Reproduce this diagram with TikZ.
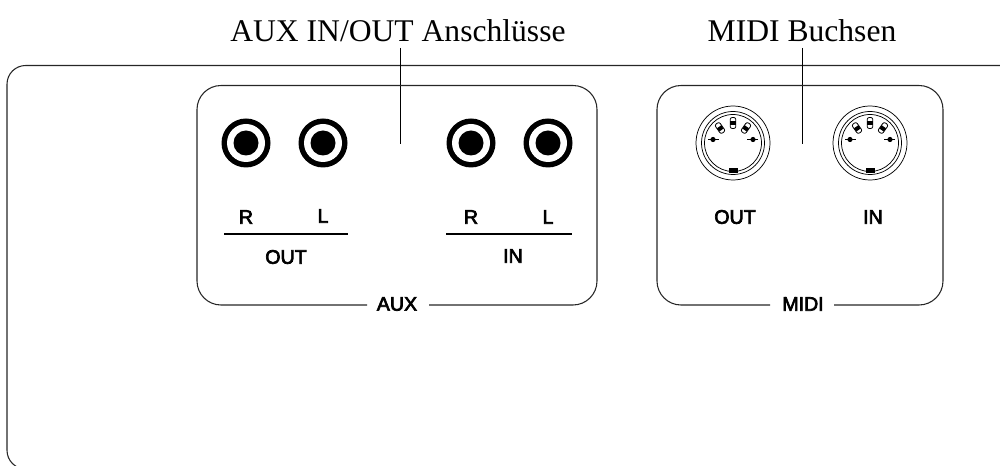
\documentclass[tikz,border=0pt]{standalone}
\usepackage{fontspec}
\setmainfont{Liberation Serif}
\newfontfamily\lab{Liberation Sans}[FakeBold=3.5]
\tikzset{
  x=0.75pt,y=-0.75pt,
  frame/.style={draw=black!85,line width=0.8pt},
  rulee/.style={draw=black,line width=1.2pt},
  lead/.style={draw=black,line width=0.7pt},
  title/.style={font=\fontsize{23.7}{26}\selectfont,inner sep=0pt,anchor=center},
  lbl/.style={font=\lab\fontsize{14.7}{16}\selectfont,inner sep=0pt,anchor=center},
  ring/.style={draw=black,line width=0.55pt,fill=white},
}
\newcommand{\jack}[3]{%
  \node[circle,fill=black,minimum size=36.75pt,inner sep=0pt] (#3) at (#1,#2) {};
  \fill[white] (#1,#2) circle (19);
  \fill[black] (#1,#2) circle (12.5);
}
\newcommand{\midijack}[2]{%
  \begin{scope}[shift={(#1,#2)}]
    \draw[ring] (0,0) circle (37);
    \draw[ring] (0,0) circle (31.5);
    \draw[ring] (0,0) circle (28.5);
    % upper pins
    \foreach \px/\py/\a in {-13/-15/35,0/-20/0,13/-15/-35}{
      \begin{scope}[shift={(\px,\py)},rotate=\a]
        \draw[black,line width=0.6pt,fill=white,rounded corners=1.5pt] (-2.8,-5.5) rectangle (2.8,5.5);
        \fill[black] (-2.6,-1.5) rectangle (2.6,2.5);
      \end{scope}
    }
    % side pins
    \fill[black] (-20,-3.5) circle (2.6);
    \draw[black,line width=0.6pt] (-25,-3.5) -- (-14,-3.5);
    \fill[black] (20,-3.5) circle (2.6);
    \draw[black,line width=0.6pt] (25,-3.5) -- (14,-3.5);
    % key
    \fill[black] (-4.5,25.5) rectangle (4.5,30);
  \end{scope}
}
\begin{document}
\begin{tikzpicture}
\useasboundingbox (0,0) rectangle (1000,466);
% outer panel
\draw[frame,rounded corners=14pt] (1000,65.5) -- (7,65.5) -- (7,469) -- (60,469);
% titles
\node[title] (auxt) at (398,31) {AUX IN/OUT Anschlüsse};
\node[title] (midit) at (802,31) {MIDI Buchsen};
\coordinate (auxe) at (400,144);
\coordinate (midie) at (802,144);
\draw[lead] (400,48) -- (auxe);
\draw[lead] (802,48) -- (midie);
% AUX box
\node[lbl] (aux) at (397,304) {AUX};
\draw[frame,rounded corners=18pt] (367,305) -- (197,305) -- (197,85.5) -- (597,85.5) -- (597,305) -- (429,305);
% MIDI box
\node[lbl] (midi) at (803,304) {MIDI};
\draw[frame,rounded corners=18pt] (770,305) -- (657,305) -- (657,85.5) -- (943,85.5) -- (943,305) -- (834,305);
% jacks
\jack{246}{143}{j1}
\jack{323}{143}{j2}
\jack{471}{143}{j3}
\jack{548}{143}{j4}
% AUX labels
\node[lbl] (r1) at (246,217) {R};
\node[lbl] (l1) at (323,216) {L};
\node[lbl] (r2) at (471,217) {R};
\node[lbl] (l2) at (548,217) {L};
\coordinate (a1) at (224,234); \coordinate (a2) at (348,234);
\coordinate (b1) at (446,234); \coordinate (b2) at (572,234);
\draw[rulee] (a1) -- (a2);
\draw[rulee] (b1) -- (b2);
\node[lbl] (o1) at (286,257) {OUT};
\node[lbl] (i1) at (513,256) {IN};
% MIDI jacks
\midijack{733}{143}
\midijack{870}{143}
\node[lbl] (o2) at (735,217) {OUT};
\node[lbl] (i2) at (873,217) {IN};
\end{tikzpicture}
\end{document}
